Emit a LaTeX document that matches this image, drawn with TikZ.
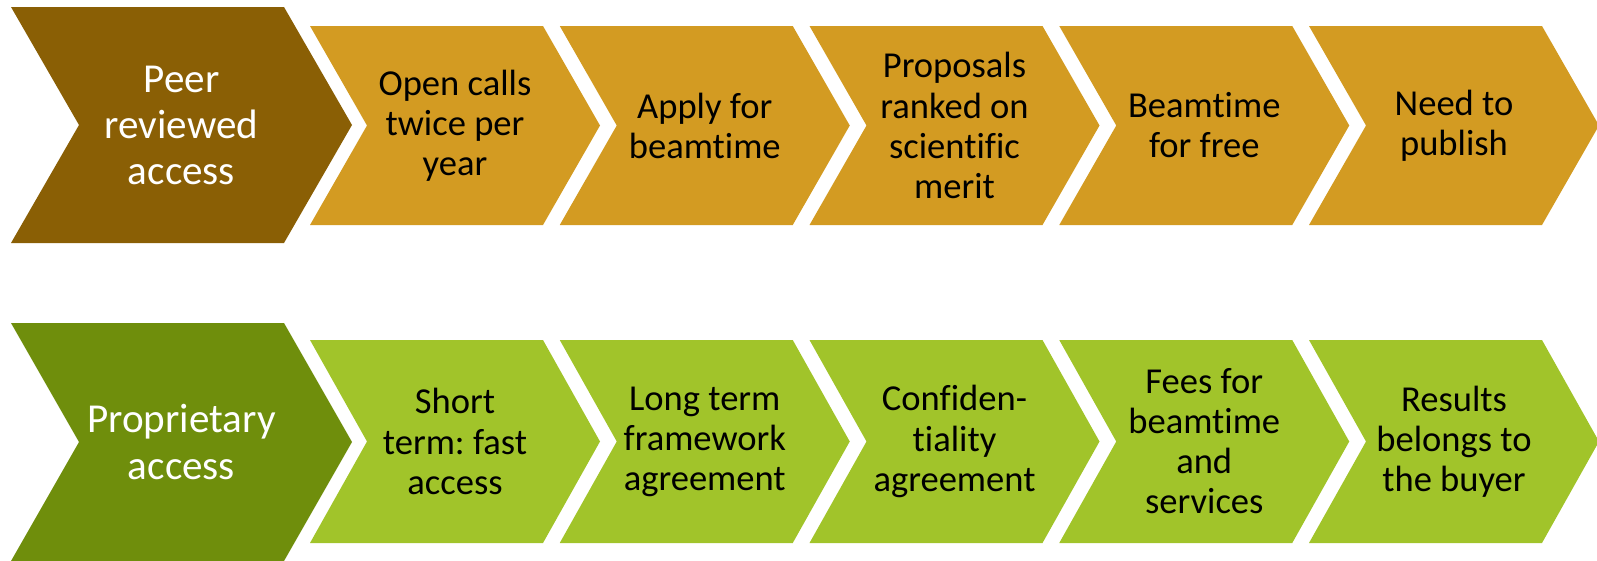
\documentclass[tikz,border=0pt]{standalone}
\usepackage{fontspec}
\setmainfont{Carlito}[Ligatures={NoCommon,NoRequired,NoContextual,NoRare},Contextuals=NoAlternate]
\frenchspacing
\usetikzlibrary{calc}
\definecolor{peerdark}{RGB}{138,95,5}
\definecolor{peerlight}{RGB}{211,155,34}
\definecolor{propdark}{RGB}{111,142,12}
\definecolor{proplight}{RGB}{161,196,42}
% chevron: colour, left x, right x, top y, bottom y, depth
\newcommand{\chev}[6]{%
  \fill[#1] (#2,#4) -- (#3,#4) -- ({#3+#6},{(#4+#5)/2}) -- (#3,#5)
    -- (#2,#5) -- ({#2+#6},{(#4+#5)/2}) -- cycle;}
\tikzset{
  headtxt/.style={text=white,align=center,inner sep=0pt,
    font=\fontsize{23.4}{26.2}\selectfont},
  steptxt/.style={text=black,align=center,inner sep=0pt,
    font=\fontsize{20.8}{22.8}\selectfont}
}

\begin{document}
\begin{tikzpicture}[x=0.02cm,y=-0.02cm]
	\useasboundingbox (0,0) rectangle (1597,561);
	% peer reviewed row
	\chev{peerdark}{11}{284}{7}{243}{68}
	\chev{peerlight}{310}{543}{26}{225}{57}
	\chev{peerlight}{559.75}{792.75}{26}{225}{57}
	\chev{peerlight}{809.5}{1042.5}{26}{225}{57}
	\chev{peerlight}{1059.25}{1292.25}{26}{225}{57}
	\chev{peerlight}{1309}{1542}{26}{225}{57}
	\node[headtxt] (peer) at (181.5,125) {Peer\\reviewed\\access};
	\node[steptxt] (calls) at (455,125.5) {Open calls\\twice per\\year};
	\node[steptxt] (apply) at (704.75,125.5) {Apply for\\beamt\kern0pt ime};
	\node[steptxt] (ranked) at (954.5,125.5) {Proposals\\ranked on\\scientif\kern0pt ic\\merit};
	\node[steptxt] (free) at (1204.25,125.5) {Beamt\kern0pt ime\\for free};
	\node[steptxt] (publish) at (1454,125.5) {Need to\\publish};
	% proprietary row
	\chev{propdark}{11}{284}{323}{561}{68}
	\chev{proplight}{310}{543}{340}{543}{57}
	\chev{proplight}{559.75}{792.75}{340}{543}{57}
	\chev{proplight}{809.5}{1042.5}{340}{543}{57}
	\chev{proplight}{1059.25}{1292.25}{340}{543}{57}
	\chev{proplight}{1309}{1542}{340}{543}{57}
	\node[headtxt] (prop) at (181.5,442) {Proprietary\\access};
	\node[steptxt] (short) at (455,441.5) {Short\\term: fast\\access};
	\node[steptxt] (longterm) at (704.75,441.5) {Long term\\framework\\agreement};
	\node[steptxt] (confid) at (954.5,441.5) {Conf\kern0pt iden-\\t\kern0pt iality\\agreement};
	\node[steptxt] (fees) at (1204.25,441.5) {Fees for\\beamt\kern0pt ime\\and\\services};
	\node[steptxt] (buyer) at (1454,441.5) {Results\\belongs to\\the buyer};
\end{tikzpicture}
\end{document}
